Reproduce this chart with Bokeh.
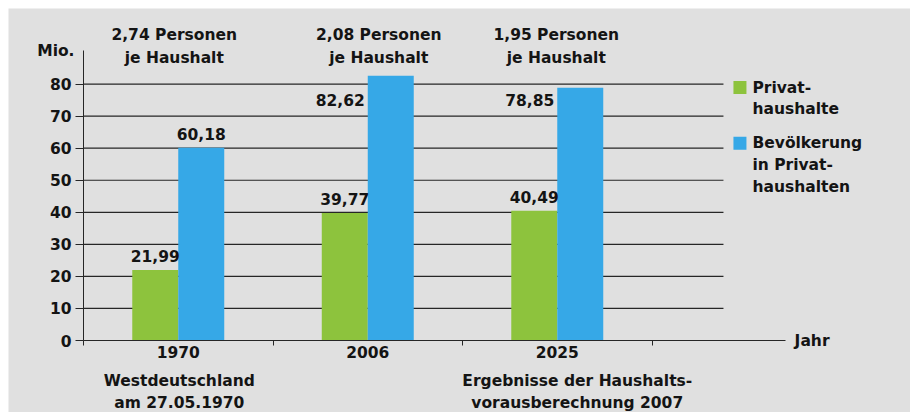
from bokeh.plotting import figure
from bokeh.models import ColumnDataSource, Range1d, FixedTicker, Label, LinearAxis
from bokeh.core.properties import value
from bokeh.embed import file_html
from bokeh.resources import INLINE

# ---------------- data ----------------
years = ["1970", "2006", "2025"]
subtitles = [["Westdeutschland", "am 27.05.1970"], [], ["Ergebnisse der Haushalts-", "vorausberechnung 2007"]]
persons = ["2,74 Personen", "2,08 Personen", "1,95 Personen"]
households = [21.99, 39.77, 40.49]          # Privathaushalte (Mio.)
population = [60.18, 82.62, 78.85]          # Bevölkerung in Privathaushalten (Mio.)
y_ticks = [0, 10, 20, 30, 40, 50, 60, 70, 80]
series_names = [["Privat-", "haushalte"], ["Bevölkerung", "in Privat-", "haushalten"]]
colors = ["#8dc33d", "#36a8e7"]

# ---------------- style ----------------
FONT = "DejaVu Sans"
FS = "15.5px"
TXT = "#141414"
BG = "#e0e0e0"
LINE = "#262626"

Y_TOP = 90.48      # top of the value axis
X_END = 3.705      # end of the category axis

p = figure(width=910, height=412, output_backend="svg", toolbar_location=None,
           x_range=Range1d(-0.3958, 4.364), y_range=Range1d(-22.46, 103.59),
           x_axis_type=None, y_axis_type=None,
           min_border_left=8, min_border_right=0, min_border_top=8, min_border_bottom=0)
p.background_fill_color = BG
p.border_fill_color = "white"
p.outline_line_color = None
p.xgrid.visible = False
p.ygrid.visible = False

# y axis
ya = LinearAxis(fixed_location=0, bounds=(0, Y_TOP))
ya.ticker = FixedTicker(ticks=y_ticks)
ya.major_tick_out = 8
ya.major_tick_in = 0
ya.minor_tick_out = 0
ya.minor_tick_in = 0
ya.axis_line_color = LINE
ya.major_tick_line_color = LINE
ya.major_label_text_font = FONT
ya.major_label_text_font_style = "bold"
ya.major_label_text_font_size = FS
ya.major_label_text_color = TXT
ya.major_label_standoff = 4
p.add_layout(ya, "left")

# x axis
n = len(years)
centers = [i + 0.5 for i in range(n)]
xa = LinearAxis(fixed_location=0, bounds=(0, X_END))
xa.ticker = FixedTicker(ticks=centers, minor_ticks=list(range(n + 1)))
xa.major_label_overrides = {c: y for c, y in zip(centers, years)}
xa.major_tick_out = 0
xa.major_tick_in = 0
xa.minor_tick_out = 5
xa.minor_tick_in = 0
xa.axis_line_color = LINE
xa.minor_tick_line_color = LINE
xa.major_label_text_font = FONT
xa.major_label_text_font_style = "bold"
xa.major_label_text_font_size = FS
xa.major_label_text_color = TXT
xa.major_label_standoff = 0
p.add_layout(xa, "below")

# grid lines (shortened, as in the original)
grid_end = 3.377
gsrc = ColumnDataSource(dict(y=[t for t in y_ticks if t > 0]))
p.segment(x0=0, x1=grid_end, y0="y", y1="y", source=gsrc, line_color=LINE, line_width=1.2)

# bars
bw = 0.2427
src = ColumnDataSource(dict(
    xg=[c - bw / 2 for c in centers], xb=[c + bw / 2 for c in centers],
    hh=households, pop=population,
    hh_lbl=[f"{v:.2f}".replace(".", ",") for v in households],
))
p.vbar(x="xg", top="hh", width=bw, source=src, fill_color=colors[0], line_color=None)
p.vbar(x="xb", top="pop", width=bw, source=src, fill_color=colors[1], line_color=None)

# value labels: households above green bars
p.text(x="xg", y="hh", text="hh_lbl", source=src, text_align="center", text_baseline="bottom",
       y_offset=-8, text_font=value(FONT), text_font_style="bold", text_font_size=FS, text_color=TXT)

# population labels: above the bar if room, else left of the bar
above = dict(x=[], y=[], t=[])
left = dict(x=[], y=[], t=[])
for c, v in zip(centers, population):
    lbl = f"{v:.2f}".replace(".", ",")
    if v < 70:
        above["x"].append(c + bw / 2); above["y"].append(v); above["t"].append(lbl)
    else:
        left["x"].append(c); left["y"].append(75); left["t"].append(lbl)
p.text(x="x", y="y", text="t", source=ColumnDataSource(above), text_align="center", text_baseline="bottom",
       y_offset=-8, text_font=value(FONT), text_font_style="bold", text_font_size=FS, text_color=TXT)
p.text(x="x", y="y", text="t", source=ColumnDataSource(left), text_align="right", text_baseline="middle",
       x_offset=-3, text_font=value(FONT), text_font_style="bold", text_font_size=FS, text_color=TXT)


def lab(x, y, text, align="center", xo=0, yo=0):
    p.add_layout(Label(x=x, y=y, text=text, x_offset=xo, y_offset=yo, text_align=align,
                       text_baseline="middle", text_font=FONT, text_font_style="bold",
                       text_font_size=FS, text_color=TXT))


# persons per household labels above groups
nudges = [-4, 11, -1]
for c, t, nd in zip(centers, persons, nudges):
    lab(c, 95.47, t, xo=nd)
    lab(c, 88.3, "je Haushalt", xo=nd)

# subtitles under year labels
sub_nudge = [1, 0, 20]
for c, lines, nd in zip(centers, subtitles, sub_nudge):
    for k, line in enumerate(lines):
        lab(c, -12.48 - k * 6.86, line, xo=nd)

# axis titles
lab(0, Y_TOP, "Mio.", align="right", xo=-9)
lab(X_END, 0, "Jahr", align="left", xo=9)

# legend
leg_x = 3.464
leg_text_x = 3.530
leg_y = [78.94, 61.56]
line_step = 6.86
p.scatter(x=[leg_x, leg_x], y=leg_y, marker="square", size=13, fill_color=colors, line_color=None)
for y0, lines in zip(leg_y, series_names):
    for k, line in enumerate(lines):
        lab(leg_text_x, y0 - k * line_step, line, align="left")

open("out.html", "w").write(file_html(p, INLINE))
